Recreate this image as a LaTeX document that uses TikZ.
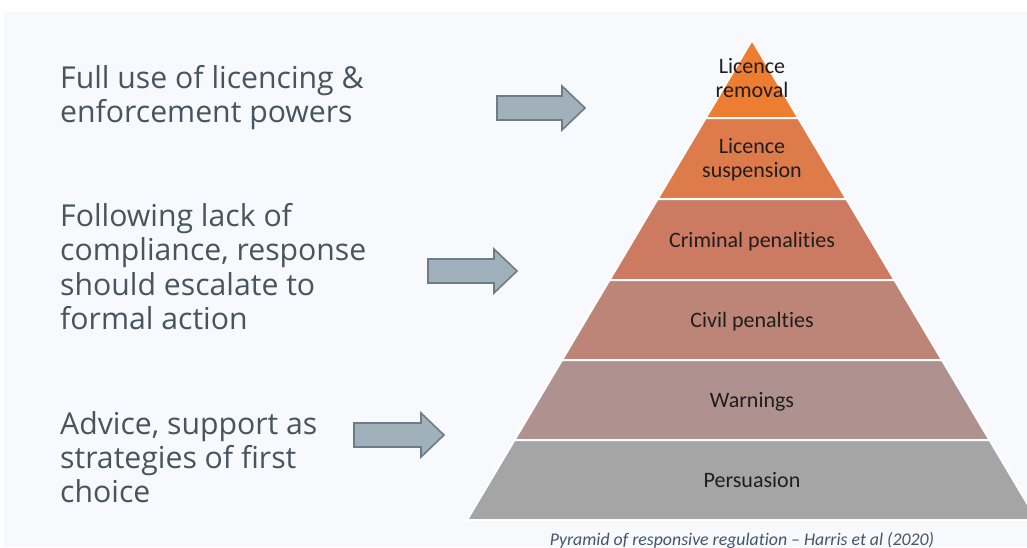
\documentclass[tikz,border=0pt]{standalone}
\usepackage{fontspec}
\setmainfont{Carlito}[Ligatures=NoCommon]
\newfontfamily\leftfont{Open Sans}
\definecolor{bgfill}{HTML}{F8F9FD}
\definecolor{slate}{HTML}{46555F}
\definecolor{capcol}{HTML}{44546A}
\definecolor{tierA}{HTML}{ED7D31}
\definecolor{tierB}{HTML}{DE7B4B}
\definecolor{tierC}{HTML}{CC7B62}
\definecolor{tierD}{HTML}{BC8577}
\definecolor{tierE}{HTML}{AF918F}
\definecolor{tierF}{HTML}{A5A5A5}
\definecolor{arrfill}{HTML}{A0B1BC}
\definecolor{arrline}{HTML}{6D7D88}
\definecolor{labcol}{HTML}{1E1E1E}
\begin{document}
\begin{tikzpicture}[x=1pt,y=-1pt,
  lefttext/.style={anchor=base west,inner sep=0pt,text=slate,font=\leftfont\fontsize{30.2}{34}\selectfont},
  tierlab/.style={anchor=base,inner sep=0pt,text=labcol,font=\fontsize{22}{24}\selectfont},
  tier/.style={draw=white,line width=2pt,line join=miter},
  blockarrow/.style={fill=arrfill,draw=arrline,line width=1.6pt,line join=miter}]
\useasboundingbox (0,0) rectangle (1027,547);
\clip (0,0) rectangle (1027,547);
\fill[white] (0,0) rectangle (1027,547);
\fill[bgfill] (4,12) rectangle (1027,547);
% pyramid: apex (752,40), slope 0.59375
\def\px#1{0.59375*(#1-40)}
\foreach \ya/\yb/\col in {40/118/tierA,118/199/tierB,199/280/tierC,280/360/tierD,360/440/tierE,440/520/tierF}{
  \filldraw[tier,fill=\col] ({752-\px{\ya}},\ya) -- ({752+\px{\ya}},\ya) -- ({752+\px{\yb}},\yb) -- ({752-\px{\yb}},\yb) -- cycle;
}
% tier labels
\node[tierlab] (t1a) at (752,73) {Licence};
\node[tierlab] (t1b) at (752,97) {removal};
\node[tierlab] (t2a) at (752,153) {Licence};
\node[tierlab] (t2b) at (752,177) {suspension};
\node[tierlab] (t3) at (752,247) {Criminal penalities};
\node[tierlab] (t4) at (752,327) {Civil penalties};
\node[tierlab] (t5) at (752,407) {Warnings};
\node[tierlab] (t6) at (752,487) {Persuasion};
% block arrows
\foreach \xa/\xb/\cy in {497/585/108,428/517/271,354/444/435}{
  \draw[blockarrow] (\xa,\cy-12) -- ({\xb-23},\cy-12) -- ({\xb-23},\cy-22) -- (\xb,\cy) -- ({\xb-23},\cy+22) -- ({\xb-23},\cy+12) -- (\xa,\cy+12) -- cycle;
}
% left texts
\node[lefttext] (a1) at (60,88) {Full use of licencing \&};
\node[lefttext] (a2) at (60,122) {enforcement powers};
\node[lefttext] (b1) at (60,226) {Following lack of};
\node[lefttext] (b2) at (60,260) {compliance, response};
\node[lefttext] (b3) at (60,295) {should escalate to};
\node[lefttext] (b4) at (60,329) {formal action};
\node[lefttext] (c1) at (60,434) {Advice, support as};
\node[lefttext] (c2) at (60,468) {strategies of first};
\node[lefttext] (c3) at (60,502) {choice};
% caption
\node[anchor=base,inner sep=0pt,text=capcol,font=\itshape\fontsize{17.8}{19}\selectfont] (cap) at (742,545) {Pyramid of responsive regulation -- Harris et al (2020)};
\end{tikzpicture}
\end{document}
